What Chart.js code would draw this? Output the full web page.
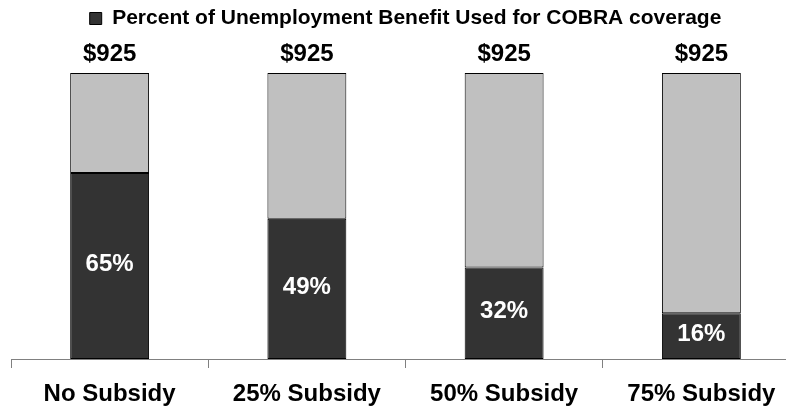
<!DOCTYPE html>
<html>
<head>
<meta charset="utf-8">
<script src="https://cdn.jsdelivr.net/npm/chart.js@4"></script>
<style>
  html, body { margin: 0; padding: 0; background: #fff; overflow: hidden; }
  #wrap { width: 800px; height: 410px; }
</style>
</head>
<body>
<div id="wrap"><canvas id="cobraChart" width="800" height="410"></canvas></div>
<script>
const categories = ['No Subsidy', '25% Subsidy', '50% Subsidy', '75% Subsidy'];
const cobraShare = [65, 49, 32, 16];
const remainingShare = [35, 51, 68, 84];
const benefitAmount = [925, 925, 925, 925];

const FONT = 'Arial, "Liberation Sans", sans-serif';

// writes the dollar amount above each stack and the share inside the dark segment
const barLabels = {
  id: 'barLabels',
  afterDatasetsDraw(chart) {
    const ctx = chart.ctx;
    const dark = chart.getDatasetMeta(0);
    const light = chart.getDatasetMeta(1);
    ctx.save();
    ctx.textAlign = 'center';
    ctx.textBaseline = 'middle';
    ctx.font = 'bold 24px ' + FONT;
    dark.data.forEach((bar, i) => {
      ctx.fillStyle = '#ffffff';
      ctx.fillText(cobraShare[i] + '%', bar.x, (bar.y + bar.base) / 2 - 2);
      const top = light.data[i].y;
      ctx.fillStyle = '#000000';
      ctx.fillText('$' + benefitAmount[i], bar.x, top - 19);
    });
    ctx.restore();
  }
};

// keeps room above the bars for the amount labels
const legendRoom = {
  id: 'legendRoom',
  beforeInit(chart) {
    const fit = chart.legend.fit;
    chart.legend.fit = function () {
      fit.call(this);
      this.height = 73;
    };
  }
};

new Chart(document.getElementById('cobraChart'), {
  type: 'bar',
  data: {
    labels: categories,
    datasets: [
      {
        label: 'Percent of Unemployment Benefit Used for COBRA coverage',
        data: cobraShare,
        backgroundColor: '#333333',
        borderColor: '#000000',
        borderWidth: 1,
        borderSkipped: false,
        barPercentage: 0.4,
        categoryPercentage: 1
      },
      {
        label: 'Remaining',
        data: remainingShare,
        backgroundColor: '#c0c0c0',
        borderColor: '#000000',
        borderWidth: 1,
        borderSkipped: false,
        barPercentage: 0.4,
        categoryPercentage: 1
      }
    ]
  },
  options: {
    responsive: false,
    animation: false,
    layout: { padding: { left: 11, right: 0, top: 0, bottom: 0 } },
    plugins: {
      legend: {
        position: 'top',
        labels: {
          filter: item => item.datasetIndex === 0,
          boxWidth: 12,
          boxHeight: 12,
          padding: 8,
          color: '#000000',
          font: { family: FONT, size: 21, weight: 'bold' }
        }
      },
      tooltip: { enabled: false }
    },
    scales: {
      x: {
        stacked: true,
        offset: true,
        afterFit(scale) { scale.height = 51; },
        border: { color: '#808080', width: 1 },
        grid: { drawOnChartArea: false, color: '#808080', tickLength: 9, offset: true },
        ticks: {
          color: '#000000',
          padding: 12,
          font: { family: FONT, size: 24, weight: 'bold' }
        }
      },
      y: {
        stacked: true,
        display: false,
        min: 0,
        max: 100
      }
    }
  },
  plugins: [barLabels, legendRoom]
});
</script>
</body>
</html>
